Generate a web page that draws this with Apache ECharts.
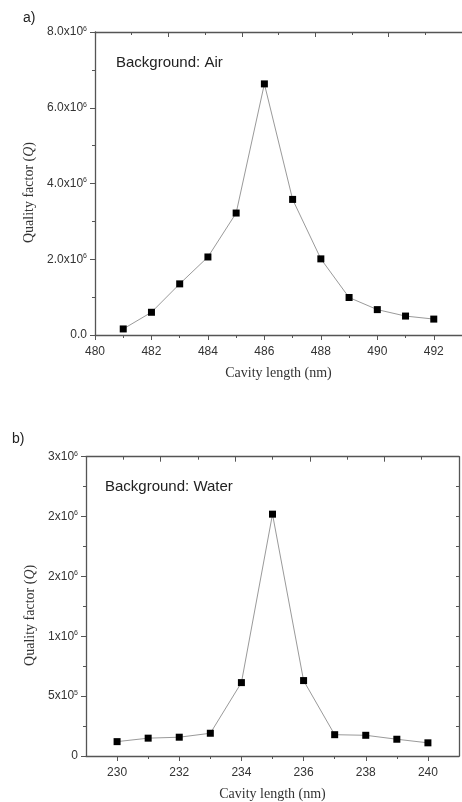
<!DOCTYPE html>
<html>
<head>
<meta charset="utf-8">
<script src="https://cdn.jsdelivr.net/npm/echarts@6/dist/echarts.min.js"></script>
<style>
  html, body { margin: 0; padding: 0; background: #fff; }
  #chart { width: 462px; height: 802px; }
</style>
</head>
<body>
<div id="chart"></div>
<script>
// a) background air
var airLength = [481, 482, 483, 484, 485, 486, 487, 488, 489, 490, 491, 492]
var airQ = [0.16e6, 0.6e6, 1.35e6, 2.06e6, 3.22e6, 6.63e6, 3.58e6, 2.01e6, 0.99e6, 0.67e6, 0.5e6, 0.42e6]
var airXTicks = [480, 482, 484, 486, 488, 490, 492]
var airXMinor = [481, 483, 485, 487, 489, 491]
var airYLabels = ['0.0', '2.0x10^6', '4.0x10^6', '6.0x10^6', '8.0x10^6']

// b) background water
var waterLength = [230, 231, 232, 233, 234, 235, 236, 237, 238, 239, 240]
var waterQ = [1.2e5, 1.49e5, 1.57e5, 1.9e5, 6.13e5, 2.02e6, 6.3e5, 1.78e5, 1.73e5, 1.4e5, 1.1e5]
var waterXTicks = [230, 232, 234, 236, 238, 240]
var waterXMinor = [231, 233, 235, 237, 239]
var waterYLabels = ['0', '5x10^5', '1x10^6', '2x10^6', '2x10^6', '3x10^6']

var axisColor = '#555'
var textColor = '#333'
var sans = '"Liberation Sans", Arial, sans-serif'
var serif = '"Liberation Serif", "Times New Roman", serif'

function pairs(xs, ys) {
    var out = []
    for (var i = 0; i < xs.length; i++) out.push([xs[i], ys[i]])
    return out
}

// "2.0x10^6" -> rich text with superscript
function supLabel(s) {
    var p = s.split('^')
    if (p.length < 2) return '{b|' + p[0] + '}'
    return '{b|' + p[0] + '}{s|' + p[1] + '}'
}

var labelRich = {
    b: { fontSize: 12, fontFamily: sans, color: textColor },
    s: { fontSize: 7, fontFamily: sans, color: textColor, verticalAlign: 'top', padding: [0, 0, 6, 0] }
}

var nameStyle = {
    fontFamily: serif,
    fontSize: 14,
    color: textColor
}

var yNameStyle = {
    padding: [0, 18, 0, 0],
    rich: {
        n: { fontFamily: serif, fontSize: 14, color: textColor },
        q: { fontFamily: serif, fontSize: 14, fontStyle: 'italic', color: textColor }
    }
}

function bottomAxis(grid, min, max, ticks, name) {
    return {
        type: 'value', gridIndex: grid, position: 'bottom', min: min, max: max,
        axisLine: { lineStyle: { color: axisColor, width: 1.3 } },
        axisTick: { customValues: ticks, length: 5, lineStyle: { color: axisColor } },
        axisLabel: { customValues: ticks, margin: 11, fontSize: 12, fontFamily: sans, color: textColor },
        splitLine: { show: false },
        name: name, nameLocation: 'middle', nameGap: 31, nameTextStyle: nameStyle
    }
}

function minorAxis(grid, min, max, ticks) {
    return {
        type: 'value', gridIndex: grid, position: 'bottom', min: min, max: max,
        axisLine: { show: false },
        axisTick: { customValues: ticks, length: 3, lineStyle: { color: axisColor } },
        axisLabel: { show: false },
        splitLine: { show: false }
    }
}

// top frame line, ticks not tied to data scale
function topAxis(grid) {
    return {
        type: 'value', gridIndex: grid, position: 'top', min: 0, max: 5, interval: 1,
        axisLine: { lineStyle: { color: axisColor, width: 1.3 } },
        axisTick: { inside: true, length: 5, lineStyle: { color: axisColor } },
        minorTick: { show: true, splitNumber: 2, length: 3, lineStyle: { color: axisColor } },
        axisLabel: { show: false },
        splitLine: { show: false }
    }
}

var chart = echarts.init(document.getElementById('chart'), null, { renderer: 'canvas' })

chart.setOption({
    animation: false,
    backgroundColor: '#fff',
    grid: [
        { left: 95, top: 32, width: 373.75, height: 303 },
        { left: 86, top: 456.7, width: 373, height: 302.6 }
    ],
    xAxis: [
        bottomAxis(0, 480, 493, airXTicks, 'Cavity length (nm)'),
        minorAxis(0, 480, 493, airXMinor),
        topAxis(0),
        bottomAxis(1, 229, 241, waterXTicks, 'Cavity length (nm)'),
        minorAxis(1, 229, 241, waterXMinor),
        topAxis(1)
    ],
    yAxis: [
        {
            type: 'value', gridIndex: 0, min: 0, max: 8e6, interval: 2e6,
            axisLine: { show: true, lineStyle: { color: axisColor, width: 1.3 } },
            axisTick: { show: true, length: 5, lineStyle: { color: axisColor } },
            minorTick: { show: true, splitNumber: 2, length: 3, lineStyle: { color: axisColor } },
            axisLabel: {
                margin: 8,
                formatter: function (v, i) { return supLabel(airYLabels[i]) },
                rich: labelRich
            },
            splitLine: { show: false },
            name: '{n|Quality factor (}{q|Q}{n|)}', nameLocation: 'middle', nameGap: 55,
            nameTextStyle: yNameStyle
        },
        {
            type: 'value', gridIndex: 1, min: 0, max: 2.5e6, interval: 5e5,
            axisLine: { show: true, lineStyle: { color: axisColor, width: 1.3 } },
            axisTick: { show: true, length: 5, lineStyle: { color: axisColor } },
            minorTick: { show: true, splitNumber: 2, length: 3, lineStyle: { color: axisColor } },
            axisLabel: {
                margin: 8,
                formatter: function (v, i) { return supLabel(waterYLabels[i]) },
                rich: labelRich
            },
            splitLine: { show: false },
            name: '{n|Quality factor (}{q|Q}{n|)}', nameLocation: 'middle', nameGap: 46,
            nameTextStyle: yNameStyle
        },
        {
            type: 'value', gridIndex: 1, position: 'right', min: 0, max: 2.5e6, interval: 5e5,
            axisLine: { show: true, lineStyle: { color: axisColor, width: 1.3 } },
            axisTick: { show: true, inside: true, length: 3, lineStyle: { color: axisColor } },
            minorTick: { show: true, splitNumber: 2, length: 3, lineStyle: { color: axisColor } },
            axisLabel: { show: false },
            splitLine: { show: false }
        }
    ],
    series: [
        {
            type: 'line', xAxisIndex: 0, yAxisIndex: 0,
            data: pairs(airLength, airQ),
            symbol: 'rect', symbolSize: 7,
            itemStyle: { color: '#000' },
            lineStyle: { color: '#9a9a9a', width: 1 }
        },
        {
            type: 'line', xAxisIndex: 3, yAxisIndex: 1,
            data: pairs(waterLength, waterQ),
            symbol: 'rect', symbolSize: 7,
            itemStyle: { color: '#000' },
            lineStyle: { color: '#9a9a9a', width: 1 }
        }
    ],
    graphic: [
        { type: 'text', left: 23, top: 11, style: { text: 'a)', fontSize: 14, fontFamily: sans, fill: '#222' } },
        { type: 'text', left: 12, top: 432, style: { text: 'b)', fontSize: 14, fontFamily: sans, fill: '#222' } },
        { type: 'text', left: 116, top: 55, style: { text: 'Background: Air', fontSize: 15, fontFamily: sans, fill: '#222' } },
        { type: 'text', left: 105, top: 479, style: { text: 'Background: Water', fontSize: 15, fontFamily: sans, fill: '#222' } }
    ]
})
</script>
</body>
</html>
